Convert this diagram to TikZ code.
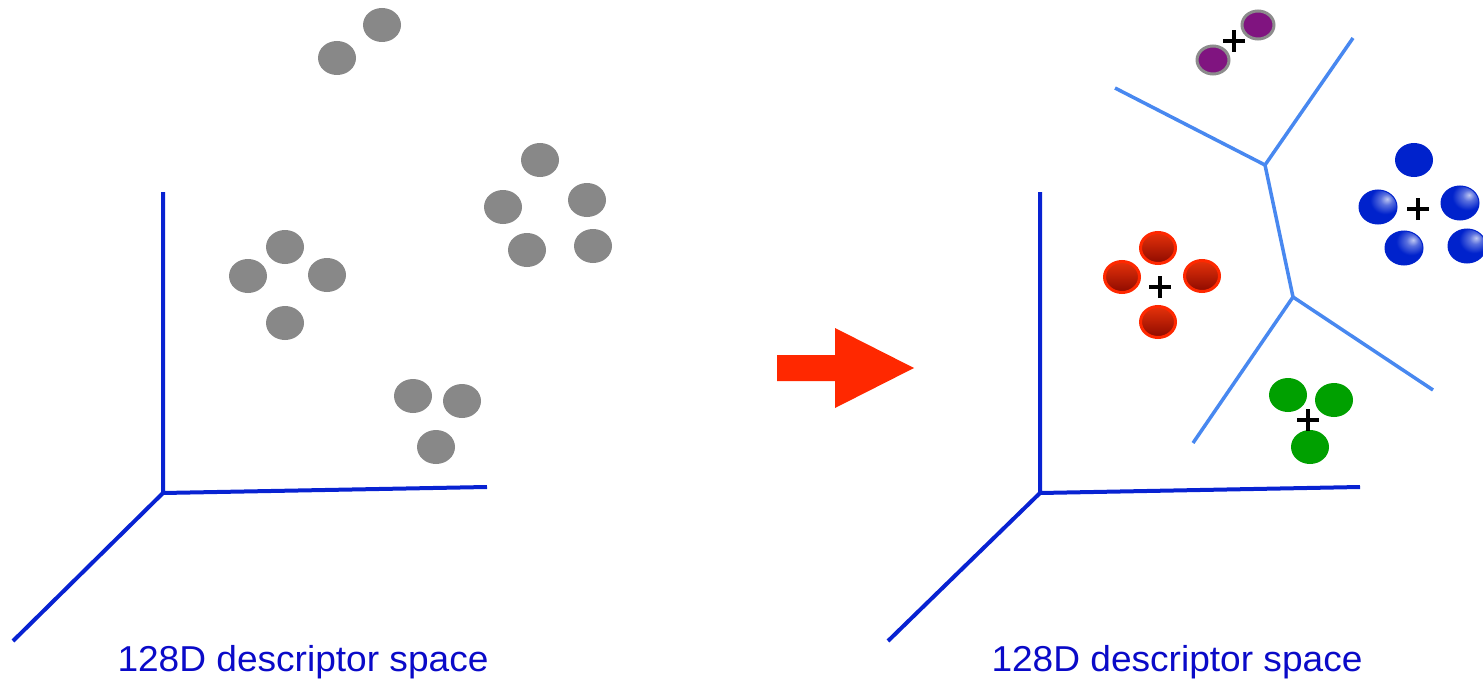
\documentclass[tikz,border=0pt]{standalone}
\usepackage{fontspec}
\setmainfont{Liberation Sans}
\usetikzlibrary{shapes.geometric}
\definecolor{axisblue}{RGB}{8,34,210}
\definecolor{txtblue}{RGB}{10,10,200}
\definecolor{vorblue}{RGB}{72,136,240}
\definecolor{dotgray}{RGB}{136,136,136}
\definecolor{arrred}{RGB}{255,40,0}
\definecolor{redtop}{RGB}{230,50,10}
\definecolor{redbot}{RGB}{140,10,0}
\definecolor{redrim}{RGB}{255,40,0}
\definecolor{dotblue}{RGB}{0,34,204}
\definecolor{dotpurple}{RGB}{128,20,128}
\definecolor{rimgray}{RGB}{140,140,140}
\definecolor{dotgreen}{RGB}{0,160,0}
\pgfdeclareradialshading{bluehl}{\pgfpoint{12bp}{12bp}}{%
  color(0bp)=(white!75!dotblue); color(8bp)=(white!35!dotblue);
  color(20bp)=(dotblue); color(100bp)=(dotblue)}
\tikzset{
  dotbase/.style={ellipse,minimum width=38pt,minimum height=34pt,inner sep=0pt},
  graydot/.style={dotbase,fill=dotgray},
  reddot/.style={dotbase,draw=redrim,line width=3pt,top color=redtop,bottom color=redbot,minimum width=35pt,minimum height=31pt},
  bluedot/.style={dotbase,shading=bluehl,draw=dotblue,line width=1pt},
  plainblue/.style={dotbase,fill=dotblue},
  purpledot/.style={dotbase,fill=dotpurple,draw=rimgray,line width=3pt,minimum width=32pt,minimum height=28pt},
  greendot/.style={dotbase,fill=dotgreen},
  axis/.style={draw=axisblue,line width=4pt},
  vor/.style={draw=vorblue,line width=3.5pt},
  plusmark/.style={line width=4.5pt,black},
  label/.style={text=txtblue,font=\fontsize{36}{40}\selectfont,inner sep=0pt,anchor=base,xscale=1.03}
}
\begin{document}
\begin{tikzpicture}[x=1pt,y=-1pt]
\useasboundingbox (0,0) rectangle (1483,682);
% ---- left axes
\coordinate (lo) at (163,493);
\coordinate (ly) at (163,192);
\coordinate (lx) at (487,487);
\coordinate (lz) at (13,641);
\draw[axis] (ly) -- (lo) -- (lx);
\draw[axis] (lo) -- (lz);
% gray dots
\node[graydot] (g1) at (337,58) {};
\node[graydot] (g2) at (382,25) {};
\node[graydot] (g3) at (540,160) {};
\node[graydot] (g4) at (503,207) {};
\node[graydot] (g5) at (587,200) {};
\node[graydot] (g6) at (527,250) {};
\node[graydot] (g7) at (593,246) {};
\node[graydot] (g8) at (285,247) {};
\node[graydot] (g9) at (248,276) {};
\node[graydot] (g10) at (327,275) {};
\node[graydot] (g11) at (285,323) {};
\node[graydot] (g12) at (413,396) {};
\node[graydot] (g13) at (462,401) {};
\node[graydot] (g14) at (436,447) {};
\node[label] (t1) at (303,671) {128D descriptor space};
% ---- arrow
\fill[arrred] (777,355) -- (835,355) -- (835,328) -- (914,368) -- (835,408) -- (835,381) -- (777,381) -- cycle;
% ---- right axes
\coordinate (ro) at (1040,493);
\coordinate (ry) at (1040,192);
\coordinate (rx) at (1360,487);
\coordinate (rz) at (888,641);
\draw[axis] (ry) -- (ro) -- (rx);
\draw[axis] (ro) -- (rz);
% voronoi
\coordinate (v1) at (1265,165);
\coordinate (v2) at (1293,297);
\coordinate (va) at (1115,88);
\coordinate (vb) at (1353,38);
\coordinate (vc) at (1193,443);
\coordinate (vd) at (1433,390);
\draw[vor] (va) -- (v1) -- (vb);
\draw[vor] (v1) -- (v2) -- (vc);
\draw[vor] (v2) -- (vd);
% red cluster
\node[reddot] (r1) at (1158,248) {};
\node[reddot] (r2) at (1122,277) {};
\node[reddot] (r3) at (1202,276) {};
\node[reddot] (r4) at (1158,322) {};
\coordinate (rc) at (1160,287);
% blue cluster
\node[plainblue] (b1) at (1414,160) {};
\node[bluedot] (b2) at (1378,207) {};
\node[bluedot] (b3) at (1460,203) {};
\node[bluedot] (b4) at (1404,248) {};
\node[bluedot] (b5) at (1467,246) {};
\coordinate (bc) at (1418,209);
% purple
\node[purpledot] (p1) at (1213,60) {};
\node[purpledot] (p2) at (1258,25) {};
\coordinate (pc) at (1234,41);
% green
\node[greendot] (gr1) at (1288,395) {};
\node[greendot] (gr2) at (1334,400) {};
\node[greendot] (gr3) at (1310,447) {};
\coordinate (gc) at (1308,420);
% plus marks
\foreach \c in {rc,bc,pc,gc}{
  \draw[plusmark] ([xshift=-11pt]\c) -- ([xshift=11pt]\c);
  \draw[plusmark] ([yshift=-11pt]\c) -- ([yshift=11pt]\c);
}
\node[label] (t2) at (1177,671) {128D descriptor space};
\end{tikzpicture}
\end{document}
